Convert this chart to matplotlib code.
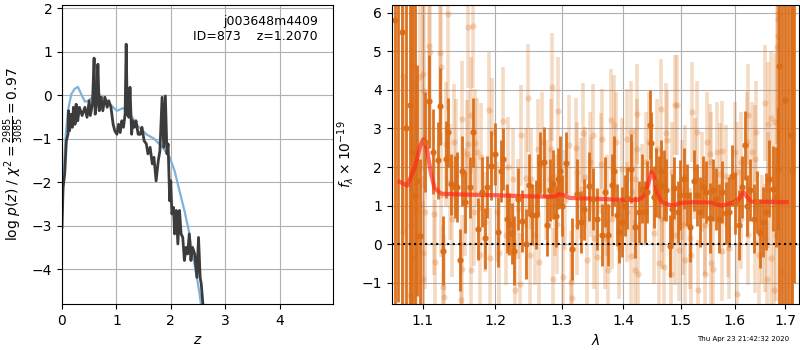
import numpy as np
import matplotlib
matplotlib.use('Agg')
import matplotlib.pyplot as plt
from matplotlib.ticker import FixedFormatter, NullLocator

# --- left panel: log p(z) ---
z_fit = [0.0, 0.02, 0.05, 0.08, 0.11, 0.12, 0.14, 0.165, 0.19, 0.21, 0.24, 0.26, 0.29, 0.32, 0.37,
         0.42, 0.46, 0.5, 0.52, 0.56, 0.59, 0.61, 0.64, 0.66, 0.685, 0.72, 0.75, 0.79, 0.83, 0.86,
         0.9, 0.94, 0.97, 1.01, 1.04, 1.07, 1.1, 1.13, 1.16, 1.18, 1.2, 1.23, 1.25, 1.28, 1.3,
         1.33, 1.36, 1.4, 1.44, 1.47, 1.51, 1.55, 1.58, 1.62, 1.66, 1.69, 1.73, 1.77, 1.8, 1.84,
         1.87, 1.9, 1.93, 1.95, 1.98, 2.0, 2.02, 2.05, 2.07, 2.1, 2.13, 2.16, 2.19, 2.22, 2.25,
         2.28, 2.31, 2.34, 2.37, 2.4, 2.44, 2.48, 2.51, 2.54, 2.56, 2.6]
logp_fit = [-3.04, -2.12, -1.81, -1.05, -0.9, -0.36, -0.82, -0.44, -0.74, -0.28, -0.67, -0.21, -0.59,
            -0.28, -0.47, -0.28, -0.51, -0.13, -0.47, -0.21, 0.85, -0.44, -0.13, 0.71, -0.36, -0.05,
            -0.36, -0.05, -0.28, -0.13, -0.28, -0.67, -0.82, -0.9, -0.67, -0.86, -0.59, -0.74, -0.44,
            1.17, -0.44, -0.51, 0.18, -0.9, -0.59, -0.74, -0.59, -0.9, -0.9, -0.74, -1.05, -1.12,
            -1.35, -1.2, -1.58, -1.43, -1.97, -1.51, -1.28, -0.05, -1.2, -0.02, -1.35, -1.12, -2.43,
            -1.97, -2.73, -2.58, -3.19, -2.65, -3.42, -2.65, -3.19, -3.27, -3.8, -3.5, -3.65, -3.19,
            -3.8, -3.5, -3.65, -4.19, -3.27, -4.19, -4.34, -4.95]

z_prior = [0.0, 0.03, 0.07, 0.11, 0.17, 0.23, 0.29, 0.34, 0.42, 0.48, 0.56, 0.65, 0.72, 0.81, 0.94,
           1.01, 1.12, 1.19, 1.27, 1.39, 1.55, 1.7, 1.85, 1.98, 2.07, 2.16, 2.25, 2.33, 2.4, 2.48,
           2.53, 2.57]
logp_prior = [-2.73, -1.81, -0.9, -0.36, 0.02, 0.14, 0.19, 0.06, -0.15, -0.13, -0.05, 0.06, -0.02,
              -0.11, -0.28, -0.36, -0.3, -0.34, -0.47, -0.7, -0.9, -1.01, -1.2, -1.43, -1.74, -2.2,
              -2.65, -3.11, -3.65, -4.19, -4.57, -4.95]

# --- right panel: spectrum (flux x 1e-19), darker orient ---
wave_a = [1.064, 1.068, 1.073, 1.078, 1.083, 1.086, 1.090, 1.093, 1.097, 1.103, 1.108, 1.114, 1.120,
          1.123, 1.127, 1.131, 1.134, 1.138, 1.144, 1.147, 1.150, 1.154, 1.158, 1.165, 1.169, 1.176,
          1.181, 1.185, 1.189, 1.194, 1.200, 1.204, 1.208, 1.212, 1.217, 1.221, 1.224, 1.228, 1.233,
          1.240, 1.246, 1.250, 1.255, 1.261, 1.263, 1.267, 1.273, 1.278, 1.282, 1.287, 1.291, 1.295,
          1.298, 1.301, 1.306, 1.316, 1.324, 1.330, 1.336, 1.343, 1.349, 1.357, 1.365, 1.369, 1.375,
          1.381, 1.385, 1.389, 1.393, 1.397, 1.402, 1.406, 1.412, 1.419, 1.426, 1.432, 1.437, 1.441,
          1.445, 1.447, 1.452, 1.456, 1.461, 1.465, 1.469, 1.473, 1.480, 1.484, 1.488, 1.494, 1.499,
          1.505, 1.511, 1.517, 1.523, 1.530, 1.534, 1.540, 1.546, 1.553, 1.559, 1.564, 1.570, 1.576,
          1.583, 1.589, 1.595, 1.601, 1.608, 1.614, 1.619, 1.624, 1.630, 1.637, 1.643, 1.649, 1.655,
          1.662, 1.668, 1.675, 1.681, 1.685, 1.688, 1.693, 1.699, 1.705, 1.711, 1.714, 1.718]
flux_a = [5.8, 7.5, 5.5, 3.0, 3.6, 2.4, 1.27, 1.65, 0.2, 2.65, 3.7, 2.4, 2.17,
          3.57, -0.17, 2.2, 2.9, 1.55, 1.48, 1.48, -0.41, 1.9, 1.1, 1.47, 2.9, 0.4,
          1.35, 0.15, 1.48, 2.04, 2.33, 0.32, 1.9, 2.2, 0.66, 0.52, 0.28, -0.17, 1.18,
          0.6, 0.0, 1.53, 0.77, 0.77, 1.53, 2.1, 2.13, 0.5, 1.4, 1.55, 0.72, 1.7,
          1.9, 1.0, 2.1, -0.13, 1.3, 0.57, 0.9, 1.5, 1.18, 0.66, 0.23, 1.35, 0.23,
          1.53, 1.9, 0.75, 0.32, 0.58, 1.0, 1.2, 1.96, 0.45, 0.84, 1.44, 0.84, 1.35,
          3.1, 2.63, 1.22, 1.6, 1.48, 1.9, 1.53, 1.4, -0.04, 0.92, 1.46, 0.84, 1.27,
          1.7, 1.27, 0.45, 1.65, 1.27, 0.84, 1.48, 1.35, 0.68, 1.4, 1.18, 0.66, 1.35,
          0.8, 0.84, 1.78, 1.07, 0.5, 1.48, 2.56, 1.0, 1.4, 0.66, 1.1, 0.28, 0.58,
          0.84, 1.7, 1.44, 1.22, 1.96, 4.63, 7.0, 3.75, -2.5, 2.82, 1.92, 8.0]
err_a = [9.0, 9.0, 9.0, 8.0, 8.0, 6.0, 5.0, 3.0, 2.0, 1.3, 1.2, 1.1, 1.0,
         1.0, 0.9, 1.0, 0.9, 0.8, 0.8, 0.9, 0.8, 0.9, 0.8, 0.8, 0.9, 0.8,
         0.9, 0.8, 0.8, 0.9, 0.8, 0.9, 0.8, 0.8, 0.9, 0.8, 0.8, 0.9, 0.8,
         0.8, 0.9, 0.8, 0.8, 0.9, 0.8, 0.8, 0.9, 0.8, 0.8, 0.9, 0.8, 0.8,
         0.9, 0.8, 0.8, 0.8, 0.9, 0.8, 0.8, 0.9, 0.8, 0.8, 0.8, 0.9, 0.8,
         0.8, 0.9, 0.8, 0.8, 0.9, 0.8, 0.8, 0.9, 0.8, 0.8, 0.9, 0.8, 0.8,
         0.9, 0.8, 0.8, 0.9, 0.8, 0.8, 0.9, 0.8, 0.8, 0.9, 0.8, 0.8, 0.9,
         0.8, 0.8, 0.9, 0.8, 0.8, 0.9, 0.8, 0.8, 0.9, 0.8, 0.8, 0.9, 0.8,
         0.8, 0.9, 0.8, 0.8, 0.9, 0.8, 0.9, 0.8, 0.8, 0.9, 0.8, 0.9, 0.9,
         1.0, 1.0, 1.1, 1.3, 1.6, 8.0, 9.0, 9.0, 9.0, 9.0, 9.0, 9.0]

# --- lighter orient ---
wave_b = [1.134, 1.161, 1.169, 1.109, 1.110, 1.123, 1.125, 1.087, 1.097, 1.100, 1.075, 1.090, 1.102,
          1.192, 1.248, 1.285, 1.294, 1.211, 1.153, 1.166, 1.238, 1.196, 1.172, 1.143, 1.131, 1.270,
          1.283, 1.311, 1.322, 1.334, 1.349, 1.345, 1.330, 1.305, 1.282, 1.226, 1.246, 1.180, 1.160,
          1.137, 1.124, 1.103, 1.115, 1.092, 1.085, 1.075, 1.088, 1.101, 1.116, 1.100, 1.084, 1.129,
          1.128, 1.154, 1.166, 1.152, 1.178, 1.193, 1.206, 1.229, 1.237, 1.252, 1.265, 1.287, 1.302,
          1.316, 1.340, 1.314, 1.216, 1.185, 1.157, 1.259, 1.293, 1.324, 1.352,
          1.380, 1.384, 1.365, 1.388, 1.406, 1.413, 1.423, 1.423, 1.444, 1.464, 1.473, 1.476, 1.457,
          1.490, 1.493, 1.520, 1.530, 1.548, 1.553, 1.576, 1.600, 1.625, 1.623, 1.633, 1.642, 1.659,
          1.666, 1.672, 1.679, 1.684, 1.686, 1.688, 1.686, 1.381, 1.369, 1.375, 1.357, 1.393, 1.412,
          1.419, 1.425, 1.461, 1.469, 1.482, 1.496, 1.507, 1.519, 1.531, 1.544, 1.556, 1.559, 1.575,
          1.590, 1.604, 1.640, 1.648, 1.663, 1.671, 1.677, 1.692, 1.681, 1.490, 1.453, 1.467, 1.504,
          1.544, 1.587, 1.613, 1.653, 1.414, 1.432, 1.507, 1.572, 1.640, 1.666,
          1.162, 1.145, 1.175, 1.219, 1.253, 1.263, 1.275, 1.290, 1.324, 1.337, 1.346, 1.233, 1.203,
          1.170, 1.140, 1.362, 1.397, 1.438, 1.420, 1.484, 1.526, 1.556, 1.566, 1.613, 1.604, 1.583,
          1.538, 1.502, 1.467, 1.406, 1.372, 1.517, 1.626, 1.659]
flux_b = [5.97, 5.64, 5.65, 5.13, 4.97, 4.95, 4.6, 4.63, 4.34, 4.41, 4.37, 4.1, 3.96,
          3.48, 3.8, 4.07, 3.44, 3.2, 3.25, 3.34, 2.82, 2.9, 2.63, 2.66, 2.6, 2.65,
          2.47, 2.56, 2.49, 2.88, 2.84, 2.13, 1.44, 1.14, 1.7, 1.7, 1.72, 2.26, 2.34,
          1.61, 1.27, 0.84, 0.79, 0.88, 0.49, 0.32, -0.33, -0.24, -0.46, -0.89, -1.32, -1.36,
          -1.1, -0.63, -0.67, -1.45, -0.28, -0.37, -0.24, -1.19, -1.02, -0.28, -0.46, -0.89, -0.84,
          -1.4, -0.41, -0.97, 0.23, 0.58, 1.1, 0.23, 0.53, 0.49, 0.15,
          3.23, 3.09, 2.73, 2.65, 2.73, 2.92, 3.38, 2.46, 2.65, 3.51, 2.88, 2.69, 2.47,
          3.61, 3.61, 3.42, 2.92, 2.65, 2.34, 2.41, 2.39, 3.36, 2.65, 2.39, 2.92, 3.66,
          3.12, 3.27, 3.16, 5.1, 5.39, 6.0, 5.84, 0.66, 0.15, -0.67, -0.33, -0.11, -0.3,
          -0.67, -0.76, -0.5, -0.59, -0.78, -0.16, -0.41, -0.27, -1.19, -0.76, -0.5, -0.63, -0.18,
          -0.11, -1.28, 0.04, -0.28, -0.89, -0.37, -1.19, -0.72, 0.23, 0.23, 0.28, 0.66, 0.5,
          0.49, 0.45, 0.66, 0.4, 1.35, 1.31, 1.78, 1.83, 2.22, 1.4,
          2.6, 2.26, 2.39, 2.0, 1.7, 2.47, 1.4, 1.0, 1.87, 1.74, 1.48, 0.92, 0.84,
          0.84, 0.66, 2.09, 1.96, 2.13, 1.7, 1.87, 1.96, 2.13, 2.39, 2.13, 1.87, 1.78,
          1.61, 1.4, 1.1, 0.84, 1.0, 0.15, 0.23, 0.15]
err_b = [2.5, 1.6, 1.6, 2.5, 2.5, 2.0, 2.0, 3.0, 2.5, 2.5, 4.0, 3.0, 2.5,
         1.5, 1.4, 1.4, 1.4, 1.4, 1.5, 1.5, 1.3, 1.4, 1.4, 1.5, 1.6, 1.3,
         1.3, 1.3, 1.3, 1.3, 1.3, 1.3, 1.3, 1.3, 1.3, 1.3, 1.3, 1.4, 1.4,
         1.5, 1.6, 2.0, 1.6, 2.5, 3.0, 4.0, 3.0, 2.0, 1.6, 2.0, 3.0, 1.6,
         1.6, 1.4, 1.4, 1.5, 1.3, 1.3, 1.3, 1.3, 1.3, 1.3, 1.3, 1.3, 1.3,
         1.3, 1.3, 1.3, 1.3, 1.3, 1.4, 1.3, 1.3, 1.3, 1.3,
         1.3, 1.3, 1.3, 1.3, 1.3, 1.3, 1.3, 1.3, 1.3, 1.3, 1.3, 1.3, 1.3,
         1.3, 1.3, 1.3, 1.3, 1.3, 1.3, 1.3, 1.3, 1.3, 1.3, 1.3, 1.3, 1.5,
         1.6, 1.7, 1.8, 2.5, 3.0, 4.0, 4.0, 1.3, 1.3, 1.3, 1.3, 1.3, 1.3,
         1.3, 1.3, 1.3, 1.3, 1.3, 1.3, 1.3, 1.3, 1.3, 1.3, 1.3, 1.3, 1.3,
         1.3, 1.3, 1.3, 1.3, 1.5, 1.6, 1.6, 2.0, 1.7, 1.3, 1.3, 1.3, 1.3,
         1.3, 1.3, 1.3, 1.4, 1.3, 1.3, 1.3, 1.3, 1.4, 1.5,
         1.4, 1.5, 1.4, 1.3, 1.3, 1.3, 1.3, 1.3, 1.3, 1.3, 1.3, 1.3, 1.3,
         1.4, 1.5, 1.3, 1.3, 1.3, 1.3, 1.3, 1.3, 1.3, 1.3, 1.3, 1.3, 1.3,
         1.3, 1.3, 1.3, 1.3, 1.3, 1.3, 1.3, 1.4]

wave_model = [1.070, 1.080, 1.090, 1.097, 1.101, 1.106, 1.111, 1.116, 1.125, 1.150, 1.200, 1.250,
              1.280, 1.290, 1.296, 1.303, 1.312, 1.350, 1.400, 1.425, 1.435, 1.442, 1.448, 1.453,
              1.458, 1.465, 1.475, 1.485, 1.500, 1.525, 1.555, 1.565, 1.575, 1.590, 1.605, 1.612,
              1.617, 1.624, 1.632, 1.660, 1.703]
flux_model = [1.62, 1.52, 2.0, 2.55, 2.72, 2.45, 1.85, 1.45, 1.31, 1.29, 1.27, 1.24, 1.23, 1.24,
              1.3, 1.27, 1.2, 1.18, 1.15, 1.15, 1.25, 1.55, 1.88, 1.7, 1.3, 1.1, 1.04, 1.0, 1.07,
              1.09, 1.08, 1.04, 1.0, 1.05, 1.13, 1.25, 1.35, 1.22, 1.1, 1.1, 1.09]

wave_ticks = [1.1, 1.2, 1.3, 1.4, 1.5, 1.6, 1.7]

fig = plt.figure(figsize=(8, 3.5), dpi=100)

ax1 = fig.add_axes([0.0775, 0.1314, 0.3386, 0.8543])
ax1.plot(z_prior, logp_prior, color='#7eb2d9', lw=1.6)
ax1.plot(z_fit, logp_fit, color='#3c3c3c', lw=2)
ax1.set_xlim(0, 4.98)
ax1.set_ylim(-4.8, 2.07)
ax1.set_xticks([0, 1, 2, 3, 4])
ax1.grid(True)
ax1.set_xlabel('$z$')
ax1.set_ylabel(r'log $p(z)$ / $\chi^2=\frac{2985}{3085}=0.97$')
ax1.text(0.945, 0.965, 'j003648m4409\nID=873    z=1.2070', ha='right', va='top',
         transform=ax1.transAxes, fontsize=9)

ax2 = fig.add_axes([0.4896, 0.1314, 0.5095, 0.8543])
col = '#db6c16'
ax2.errorbar(wave_b, flux_b, yerr=err_b, fmt='o', color=col, alpha=0.25, ms=4.5,
             elinewidth=2.6, mew=0)
ax2.errorbar(wave_a, flux_a, yerr=err_a, fmt='o', color=col, alpha=0.95, ms=4.5,
             elinewidth=2.0, mew=0)
ax2.plot(wave_model, flux_model, color='#ff2a1a', alpha=0.7, lw=3)
ax2.axhline(0, color='k', ls=':', lw=1.5)
ax2.set_xscale('log')
ax2.set_xlim(1.06, 1.729)
ax2.set_ylim(-1.55, 6.2)
ax2.set_xticks(wave_ticks)
ax2.xaxis.set_major_formatter(FixedFormatter([str(t) for t in wave_ticks]))
ax2.xaxis.set_minor_locator(NullLocator())
ax2.grid(True)
ax2.set_xlabel(r'$\lambda$')
ax2.set_ylabel(r'$f_\lambda \times 10^{-19}$')

fig.text(0.986, 0.031, 'Thu Apr 23 21:42:32 2020', ha='right', va='center', fontsize=5)

plt.savefig('out.png', dpi=100)
